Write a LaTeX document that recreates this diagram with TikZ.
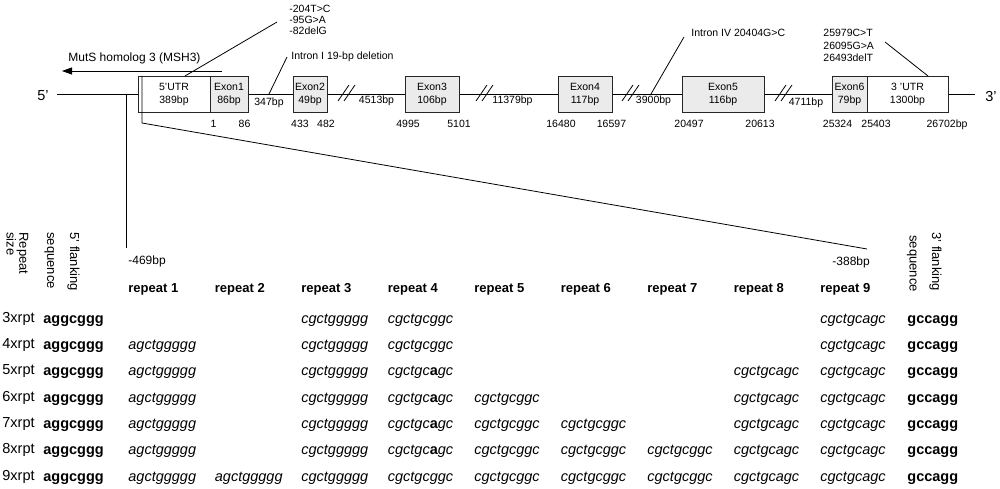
\documentclass[tikz,border=0pt]{standalone}
\usepackage{fontspec}
\setmainfont{Liberation Sans}
\usetikzlibrary{arrows.meta}

% repeat units
\newcommand{\sqA}{agctggggg}
\newcommand{\sqB}{cgctggggg}
\newcommand{\sqC}{cgctgcggc}
\newcommand{\sqD}{cgctgc\textbf{\upshape a}gc}
\newcommand{\sqE}{cgctgcagc}

\begin{document}
\begin{tikzpicture}[
        x=1pt, y=-1pt,
        line width=0.8pt,
        utr/.style={draw=black!85, fill=white, minimum height=36pt, inner sep=0pt, align=center, font=\fontsize{10.5}{13}\selectfont},
        exon/.style={utr, fill=gray!16},
        small/.style={font=\fontsize{10.5}{13}\selectfont, inner sep=0pt},
        vlbl/.style={font=\fontsize{13}{15}\selectfont, rotate=-90, anchor=base west, inner sep=0pt},
        hdr/.style={font=\fontsize{13}{15}\selectfont\bfseries, anchor=base west, inner sep=0pt},
        rowlbl/.style={font=\fontsize{14.5}{16}\selectfont, anchor=base west, inner sep=0pt},
        flank/.style={font=\fontsize{14.5}{16}\selectfont\bfseries, anchor=base west, inner sep=0pt},
        seqtxt/.style={font=\fontsize{14.5}{16}\selectfont\itshape, anchor=base west, inner sep=0pt}
    ]
    \useasboundingbox (0,0) rectangle (1000,489);

    % --- Gene line ---
    \node[font=\fontsize{14.5}{16}\selectfont, anchor=base west, inner sep=0pt] (end5) at (37,100.5) {5'};
    \node[font=\fontsize{14.5}{16}\selectfont, anchor=base west, inner sep=0pt] (end3) at (985,101.5) {3'};
    \coordinate (g5) at (57,94);
    \coordinate (g3) at (975,94);
    \draw (g5) -- (g3);

    % break marks
    \foreach \bx in {338,476,622,775} {
        \draw (\bx,101) -- (\bx+11,85);
        \draw (\bx+6,101) -- (\bx+17,85);
    }

    % --- Boxes ---
    \node[utr, minimum width=72pt] (utr5) at (174,94) {5'UTR\\389bp};
    \node[exon, minimum width=38pt] (ex1) at (229,94) {Exon1\\86bp};
    \node[exon, minimum width=34pt] (ex2) at (310,94) {Exon2\\49bp};
    \node[exon, minimum width=54pt] (ex3) at (432,94) {Exon3\\106bp};
    \node[exon, minimum width=54pt] (ex4) at (585,94) {Exon4\\117bp};
    \node[exon, minimum width=82pt] (ex5) at (723,94) {Exon5\\116bp};
    \node[exon, minimum width=35pt] (ex6) at (849.5,94) {Exon6\\79bp};
    \node[utr, minimum width=81pt] (utr3) at (907.5,94) {3 'UTR\\1300bp};

    % intron lengths
    \node[small, anchor=base] (int1) at (269,106) {347bp};
    \node[small, anchor=base] (int2) at (376.5,103.5) {4513bp};
    \node[small, anchor=base] (int3) at (512.5,103.5) {11379bp};
    \node[small, anchor=base] (int4) at (653.5,103.5) {3900bp};
    \node[small, anchor=base] (int5) at (806,106) {4711bp};

    % positions
    \foreach \px/\t [count=\k] in {213.5/1, 244.5/86, 300/433, 326/482, 408/4995, 459/5101,
            561/16480, 611.5/16597, 689/20497, 760/20613, 837.5/25324, 876/25403, 947/26702bp}
        \node[small, anchor=base] (pos\k) at (\px,128) {\t};

    % --- Direction of MSH3 ---
    \node[font=\fontsize{12}{14}\selectfont, anchor=base west, inner sep=0pt] (msh) at (68,62) {MutS homolog 3 (MSH3)};
    \coordinate (arS) at (222,71);
    \coordinate (arE) at (62,71);
    \draw[-{Triangle[length=10pt,width=7pt]}] (arS) -- (arE);

    % --- Variants ---
    \node[small, anchor=base west, align=left, font=\fontsize{10.5}{11}\selectfont] (var5) at (289,34.7) {-204T>C\\-95G>A\\-82delG};
    \node[small, anchor=base west] (var1) at (291,59.5) {Intron I 19-bp deletion};
    \node[small, anchor=base west] (var4) at (691,36.7) {Intron IV 20404G>C};
    \node[small, anchor=base west, align=left, font=\fontsize{10.5}{12.5}\selectfont] (var3) at (823,61.7) {25979C>T\\26095G>A\\26493delT};
    \coordinate (pt5a) at (185,76);
    \coordinate (pt5b) at (277,22);
    \coordinate (pt1a) at (269,94);
    \coordinate (pt1b) at (287,57);
    \coordinate (pt4a) at (651,94);
    \coordinate (pt4b) at (684,37);
    \coordinate (pt3a) at (928,76);
    \coordinate (pt3b) at (885,42);
    \draw (pt5a) -- (pt5b);
    \draw (pt1a) -- (pt1b);
    \draw (pt4a) -- (pt4b);
    \draw (pt3a) -- (pt3b);

    % --- Zoom to the repeat region ---
    \coordinate (zl0) at (126,94);
    \coordinate (zl1) at (126,248);
    \coordinate (zr0) at (142,76);
    \coordinate (zr1) at (142,123);
    \coordinate (zr2) at (867,249);
    \draw (zl0) -- (zl1);
    \draw (zr0) -- (zr1) -- (zr2);
    \node[font=\fontsize{12}{14}\selectfont, anchor=base west, inner sep=0pt] (bp469) at (128,264) {-469bp};
    \node[font=\fontsize{12}{14}\selectfont, anchor=base west, inner sep=0pt] (bp388) at (832,265) {-388bp};

    % --- Table headers ---
    \node[vlbl] (hsz1) at (19.5,232) {Repeat};
    \node[vlbl] (hsz2) at (6.5,232) {size};
    \node[vlbl] (hf5a) at (70,232) {5' flanking};
    \node[vlbl] (hf5b) at (47,232) {sequence};
    \node[vlbl] (hf3a) at (932,232) {3' flanking};
    \node[vlbl] (hf3b) at (909.5,235) {sequence};
    \foreach \i in {1,...,9}
        \node[hdr] (rep\i) at ({128+86.5*(\i-1)},292) {repeat \i};

    % --- Table rows ---
    \foreach \n in {3,...,9} {
        \node[rowlbl] (row\n) at (2,{322.3+26.3*(\n-3)}) {\n xrpt};
        \node[flank] (fa\n) at (43,{323.3+26.3*(\n-3)}) {aggcggg};
        \node[flank] (fb\n) at (907,{323.3+26.3*(\n-3)}) {gccagg};
    }
    \foreach \r/\c/\s in {3/3/\sqB, 3/4/\sqC, 3/9/\sqE,
            4/1/\sqA, 4/3/\sqB, 4/4/\sqC, 4/9/\sqE,
            5/1/\sqA, 5/3/\sqB, 5/4/\sqD, 5/8/\sqE, 5/9/\sqE,
            6/1/\sqA, 6/3/\sqB, 6/4/\sqD, 6/5/\sqC, 6/8/\sqE, 6/9/\sqE,
            7/1/\sqA, 7/3/\sqB, 7/4/\sqD, 7/5/\sqC, 7/6/\sqC, 7/8/\sqE, 7/9/\sqE,
            8/1/\sqA, 8/3/\sqB, 8/4/\sqD, 8/5/\sqC, 8/6/\sqC, 8/7/\sqC, 8/8/\sqE, 8/9/\sqE,
            9/1/\sqA, 9/2/\sqA, 9/3/\sqB, 9/4/\sqC, 9/5/\sqC, 9/6/\sqC, 9/7/\sqC, 9/8/\sqE, 9/9/\sqE}
        \node[seqtxt] (s\r-\c) at (rep\c.base west |- fa\r.base) {\s};

\end{tikzpicture}
\end{document}
